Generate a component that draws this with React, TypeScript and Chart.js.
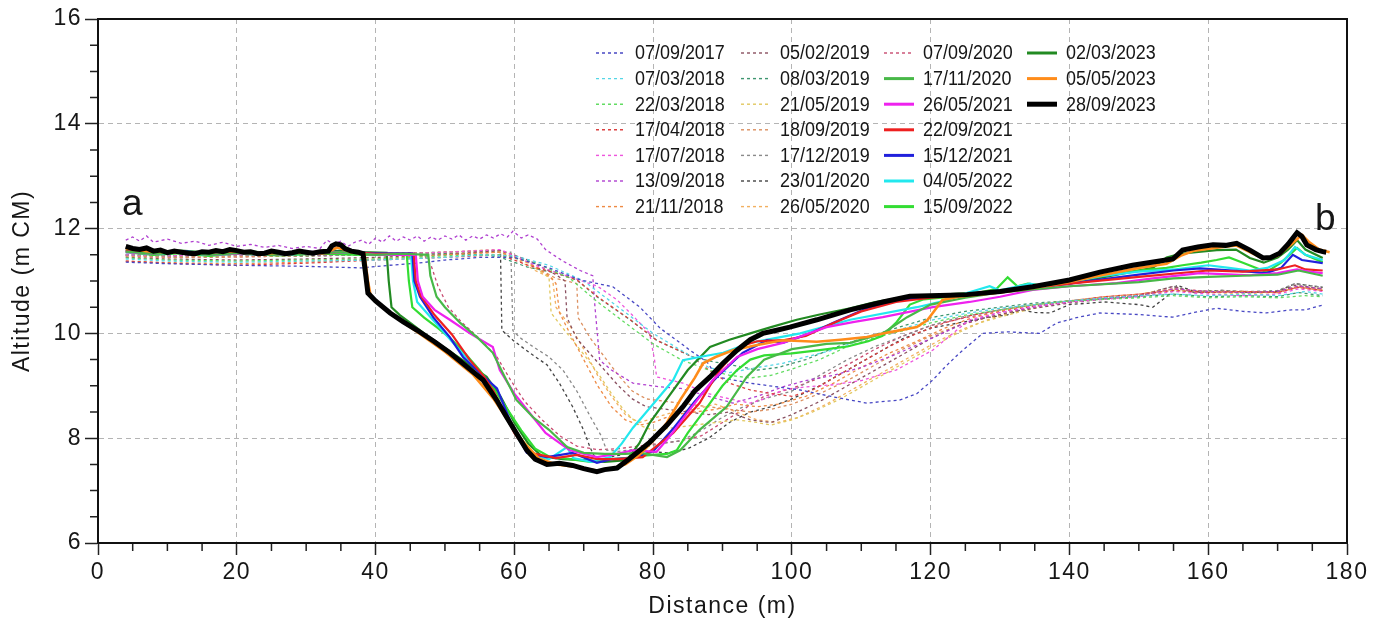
import React, { useEffect, useRef } from 'react';
import { Chart, registerables } from 'chart.js';

Chart.register(...registerables);

type P = [number, number][];

// ---- survey profiles: [distance (m), altitude (m CM)] ----
const s20170907: P = [[4,11.36],[10,11.33],[20,11.3],[30,11.28],[38,11.25],[42,11.3],[46,11.34],[50,11.4],[55,11.45],[60,11.45],[65,11.25],[69.5,11.02],[74.2,10.89],[78.1,10.5],[81,10.1],[83.9,9.82],[85.3,9.68],[87.8,9.45],[89.2,9.17],[94,9.05],[101.2,8.92],[105.9,8.79],[110.8,8.67],[115.6,8.73],[118,8.85],[120.3,9.11],[122,9.35],[124.2,9.63],[127.5,10.0],[131,10.03],[135.7,10.0],[138.2,10.2],[141,10.3],[144.4,10.39],[150,10.36],[154.9,10.31],[158,10.4],[161.2,10.48],[165,10.42],[168.4,10.39],[172,10.45],[174,10.45],[176.5,10.54]];
const s20180307: P = [[4,11.42],[10,11.38],[20,11.36],[30,11.38],[40,11.4],[50,11.45],[55,11.5],[60,11.48],[65,11.3],[70,11.0],[75,10.5],[80,10.0],[85,9.6],[88,9.35],[91,9.25],[95,9.35],[98.7,9.43],[102,9.55],[105.9,9.68],[110,9.88],[115,10.05],[120,10.25],[125,10.38],[130,10.48],[135,10.55],[140,10.62],[145,10.68],[150,10.72],[155,10.75],[160,10.72],[165,10.75],[170,10.72],[174,10.8],[176.5,10.75]];
const s20180322: P = [[4,11.44],[10,11.4],[20,11.38],[30,11.4],[40,11.42],[50,11.48],[58,11.5],[63,11.35],[68,11.05],[72,10.6],[76,10.2],[80,9.8],[84,9.5],[88,9.3],[91,9.2],[94,9.15],[97,9.2],[100,9.32],[104,9.5],[108,9.75],[112,9.92],[116,10.05],[120,10.2],[125,10.35],[130,10.45],[135,10.55],[140,10.62],[145,10.65],[150,10.68],[155,10.72],[160,10.68],[165,10.7],[170,10.68],[174,10.72],[176.5,10.7]];
const s20180417: P = [[4,11.38],[10,11.34],[20,11.3],[30,11.34],[40,11.4],[50,11.45],[58,11.5],[62,11.3],[66,11.15],[69,11.02],[72,10.7],[76.7,10.26],[80.5,9.87],[85.7,9.55],[88,9.3],[91,9.05],[94,8.92],[97,8.85],[100,8.8],[103,8.92],[106,9.15],[110,9.45],[114,9.75],[118,10.0],[122,10.2],[126,10.35],[130,10.45],[135,10.55],[140,10.62],[145,10.7],[150,10.75],[155,10.82],[160,10.78],[165,10.8],[170,10.78],[173,10.88],[176.5,10.82]];
const s20180717: P = [[4,11.5],[10,11.48],[20,11.5],[30,11.5],[40,11.5],[50,11.55],[58,11.6],[63,11.3],[68,11.08],[72,10.9],[74.8,10.64],[77,10.35],[79.5,10.0],[80.2,9.5],[80.5,9.17],[84.3,9.05],[88,8.85],[91,8.75],[94,8.67],[96,8.75],[98.7,8.92],[102,8.98],[106,9.02],[110,9.1],[115,9.3],[120.3,9.68],[123,9.98],[125.6,10.26],[130,10.4],[135,10.52],[140,10.6],[145,10.65],[150,10.7],[155,10.8],[160,10.75],[165,10.72],[170,10.75],[173,10.85],[176.5,10.8]];
const s20180913: P = [[4,11.78],[5,11.84],[6,11.76],[7,11.86],[8,11.74],[10,11.8],[12,11.72],[14,11.76],[16,11.68],[18,11.74],[20,11.66],[22,11.7],[24,11.64],[26,11.68],[28,11.62],[30,11.66],[32,11.62],[33,11.78],[34,11.7],[35,11.76],[36,11.66],[37,11.74],[38,11.78],[39,11.7],[40,11.82],[41,11.74],[42,11.86],[43,11.76],[44,11.84],[45,11.78],[46,11.86],[47,11.76],[48,11.84],[49,11.78],[50,11.86],[51,11.8],[52,11.88],[53,11.78],[54,11.86],[55,11.8],[56,11.88],[57,11.82],[58,11.9],[59,11.84],[59.8,11.95],[61,11.82],[62,11.88],[63.3,11.8],[64.5,11.6],[65.6,11.5],[67,11.38],[69.5,11.2],[71.3,11.1],[71.6,10.54],[72.3,9.49],[74,9.3],[77.1,9.05],[81,8.98],[84,8.95],[88,8.8],[91.5,8.67],[95,8.8],[98.7,8.98],[102,9.1],[106,9.2],[110,9.35],[115,9.6],[120,9.9],[125,10.2],[130,10.4],[135,10.5],[140,10.6],[145,10.68],[150,10.72],[155,10.85],[160,10.8],[165,10.78],[170,10.8],[173,10.9],[176.5,10.85]];
const s20181121: P = [[4,11.38],[10,11.35],[20,11.33],[30,11.36],[40,11.42],[50,11.5],[58,11.55],[62,11.35],[65,11.1],[66,10.95],[66.5,10.4],[68,10.0],[70,9.5],[72,9.0],[74,8.6],[76,8.35],[78,8.25],[80,8.3],[83,8.45],[86,8.5],[89,8.55],[92,8.65],[95,8.6],[98,8.65],[102,8.8],[106,9.05],[110,9.35],[114,9.62],[118,9.85],[122,10.1],[126,10.3],[130,10.42],[135,10.55],[140,10.62],[145,10.7],[150,10.75],[155,10.85],[160,10.8],[165,10.8],[170,10.78],[173,10.88],[176.5,10.82]];
const s20190205: P = [[4,11.45],[10,11.42],[20,11.4],[30,11.42],[40,11.45],[50,11.5],[58,11.58],[62,11.4],[66,11.12],[67.3,11.0],[67.6,10.3],[69,9.9],[71,9.6],[73,9.3],[75,9.0],[77,8.75],[79,8.6],[82,8.55],[85,8.5],[88,8.45],[91,8.5],[94,8.35],[97,8.3],[100,8.45],[104,8.7],[108,9.0],[112,9.3],[116,9.6],[120,9.9],[124,10.15],[128,10.3],[132,10.42],[136,10.5],[140,10.58],[145,10.66],[150,10.72],[155,10.9],[158,10.78],[162,10.8],[166,10.78],[170,10.8],[172.5,10.92],[176.5,10.85]];
const s20190308: P = [[4,11.5],[10,11.48],[20,11.5],[30,11.48],[40,11.5],[50,11.52],[56,11.5],[58,11.45],[61.8,11.27],[66,11.15],[69,11.02],[71.9,10.7],[76.7,10.26],[80.5,9.87],[85.7,9.55],[89,9.45],[92,9.38],[95,9.3],[98,9.35],[102,9.5],[106,9.72],[110,9.9],[115,10.1],[120,10.3],[125,10.42],[130,10.5],[135,10.58],[140,10.62],[145,10.66],[150,10.7],[155,10.75],[160,10.7],[165,10.72],[170,10.7],[173,10.78],[176.5,10.72]];
const s20190521: P = [[4,11.5],[10,11.48],[20,11.5],[30,11.5],[40,11.5],[50,11.55],[57,11.6],[60,11.5],[63,11.25],[65,11.07],[65.3,10.39],[67,10.1],[70,9.6],[72,9.25],[74,8.85],[76,8.5],[78,8.25],[80,8.15],[83,8.2],[86,8.25],[89,8.3],[92,8.35],[95,8.3],[97,8.25],[100,8.35],[103,8.5],[107,8.75],[111,9.05],[115,9.35],[119,9.65],[123,9.95],[127,10.2],[131,10.35],[135,10.48],[140,10.6],[145,10.68],[150,10.72],[155,10.82],[160,10.8],[165,10.78],[170,10.8],[173,10.9],[176.5,10.85]];
const s20190918: P = [[4,11.48],[10,11.45],[20,11.46],[30,11.48],[40,11.5],[50,11.52],[58,11.55],[62,11.35],[66,11.05],[69,10.95],[69.2,10.3],[71,9.9],[73,9.55],[75,9.2],[77,8.9],[79,8.75],[82,8.7],[85,8.65],[88,8.6],[91,8.55],[94,8.5],[97,8.55],[100,8.65],[104,8.85],[108,9.1],[112,9.4],[116,9.7],[120,9.95],[124,10.15],[128,10.3],[132,10.42],[136,10.52],[140,10.6],[145,10.68],[150,10.72],[155,10.85],[160,10.78],[165,10.8],[170,10.78],[173,10.88],[176.5,10.82]];
const s20191217: P = [[4,11.5],[10,11.48],[20,11.5],[30,11.5],[40,11.5],[50,11.52],[56,11.55],[59.5,11.55],[59.8,10.05],[61,9.9],[63,9.72],[65,9.55],[67,9.3],[69,8.9],[71,8.4],[72.5,8.05],[73.3,7.77],[75,7.75],[78,7.8],[81,7.9],[84,7.95],[87,8.15],[90,8.4],[93,8.6],[96,8.75],[100,8.9],[104,9.2],[108,9.5],[112,9.75],[116,9.95],[120,10.15],[124,10.3],[128,10.4],[132,10.5],[136,10.55],[140,10.62],[145,10.68],[150,10.72],[155,10.9],[158,10.78],[162,10.82],[166,10.8],[170,10.82],[172.5,10.95],[176.5,10.88]];
const s20200123: P = [[4,11.5],[10,11.48],[20,11.5],[30,11.5],[40,11.52],[50,11.55],[56,11.58],[58,11.58],[58.2,10.06],[59.8,9.87],[62.2,9.63],[64.7,9.4],[66.5,9.05],[68.4,8.6],[70,8.15],[70.9,7.83],[71.9,7.55],[73.8,7.64],[76,7.7],[79,7.75],[82,7.72],[85,7.8],[88,8.0],[91,8.3],[94,8.5],[97,8.6],[100,8.75],[104,9.0],[108,9.3],[112,9.6],[116,9.9],[120,10.1],[124,10.2],[128,10.3],[131,10.35],[133,10.45],[135,10.4],[137.2,10.39],[140,10.55],[145,10.6],[150,10.55],[152,10.5],[154,10.7],[155.5,10.92],[158,10.8],[162,10.82],[166,10.78],[170,10.8],[172.5,10.95],[176.5,10.88]];
const s20200526: P = [[4,11.48],[10,11.46],[20,11.48],[30,11.48],[40,11.5],[50,11.55],[57,11.58],[60,11.45],[63,11.2],[65.5,11.05],[66,10.5],[68,10.15],[70,9.7],[72,9.2],[74,8.8],[76,8.45],[78,8.3],[80,8.38],[83,8.5],[86,8.55],[89,8.65],[92,8.5],[95,8.35],[98,8.3],[101,8.4],[105,8.65],[109,8.95],[113,9.25],[117,9.55],[121,9.85],[125,10.1],[129,10.3],[133,10.45],[137,10.55],[141,10.62],[145,10.68],[150,10.72],[155,10.82],[160,10.78],[165,10.76],[170,10.78],[173,10.88],[176.5,10.82]];
const s20200907: P = [[4,11.48],[10,11.45],[20,11.46],[30,11.48],[40,11.5],[47,11.5],[48,11.3],[49,10.9],[50.5,10.5],[52.5,10.2],[55,9.9],[57.5,9.55],[59.5,9.1],[61.5,8.7],[64,8.35],[66.5,8.05],[69,7.85],[72,7.78],[75,7.8],[78,7.85],[81,7.9],[84,7.95],[87,8.05],[90,8.3],[93,8.55],[96,8.8],[100,8.95],[104,9.15],[108,9.4],[112,9.7],[116,9.95],[120,10.15],[125,10.3],[130,10.42],[135,10.52],[140,10.6],[145,10.66],[150,10.72],[155,10.85],[160,10.8],[165,10.78],[170,10.8],[173,10.9],[176.5,10.85]];
const s20201117: P = [[4,11.56],[8,11.52],[12,11.55],[16,11.5],[20,11.53],[25,11.5],[30,11.52],[35,11.55],[40,11.5],[44,11.52],[47.6,11.5],[47.9,11.1],[48.8,10.7],[50,10.5],[52.2,10.2],[54.6,9.93],[56.9,9.63],[58.5,9.2],[60.3,8.73],[62.7,8.4],[65,8.16],[67.6,7.83],[70,7.72],[73,7.7],[76,7.7],[78.1,7.72],[82,7.64],[83.9,7.77],[86.7,8.16],[90.6,8.6],[93.5,9.17],[96,9.5],[100,9.7],[105,9.8],[108.4,9.82],[113.1,10.0],[116.6,10.31],[120,10.55],[125,10.68],[130,10.78],[140,10.9],[150,10.98],[155,11.05],[160,11.08],[165,11.1],[170,11.12],[173,11.2],[176.5,11.1]];
const s20210526: P = [[4,11.55],[8,11.52],[12,11.56],[16,11.5],[20,11.52],[26,11.5],[32,11.54],[36,11.55],[40,11.5],[45.8,11.5],[46.1,11.0],[46.8,10.7],[48.5,10.45],[50.7,10.26],[53.6,10.0],[56.9,9.74],[57.9,9.3],[60,8.85],[62.7,8.4],[64.5,8.1],[66.6,7.9],[68,7.77],[71.9,7.64],[74.8,7.7],[77.1,7.77],[80.5,7.74],[82.5,8.05],[84.9,8.48],[88.6,9.11],[90.5,9.35],[92.1,9.55],[95,9.7],[98.7,9.82],[102,9.98],[105,10.12],[109,10.22],[113.1,10.31],[120.3,10.5],[125.6,10.6],[130,10.7],[134.7,10.83],[140,10.9],[146.8,10.96],[152,11.05],[158.8,11.15],[162,11.13],[166,11.11],[170,11.15],[172.8,11.22],[174.5,11.18],[176.5,11.15]];
const s20210922: P = [[4,11.57],[8,11.53],[12,11.56],[16,11.52],[20,11.53],[26,11.55],[32,11.52],[36,11.56],[40,11.52],[45.5,11.52],[45.8,11.0],[46.5,10.72],[48.5,10.35],[51,9.98],[53.6,9.49],[55.5,9.2],[57,8.9],[58.5,8.5],[60,8.1],[61.5,7.82],[63,7.7],[66,7.62],[69,7.68],[72,7.6],[75,7.6],[78.5,7.64],[82.9,8.1],[86.7,8.67],[88.2,9.0],[89.6,9.3],[92.5,9.75],[95,9.85],[98.7,9.87],[102,9.95],[106,10.2],[110,10.42],[115,10.6],[120,10.68],[130,10.78],[140,10.95],[150,11.08],[160,11.2],[165,11.18],[170,11.22],[172.5,11.3],[174,11.22],[176.5,11.2]];
const s20211215: P = [[4,11.58],[8,11.55],[12,11.57],[16,11.53],[20,11.55],[26,11.53],[32,11.56],[36,11.55],[40,11.53],[45.3,11.53],[45.6,11.0],[46.4,10.7],[48.3,10.31],[50.7,9.93],[52.6,9.55],[55,9.25],[57.5,8.95],[59.8,8.2],[61.8,7.72],[64.7,7.64],[68.4,7.72],[71.9,7.53],[74,7.6],[77,7.62],[80,7.75],[83,8.2],[86,8.7],[89.2,9.17],[92.9,9.63],[96.4,9.87],[98.7,9.82],[102.6,10.0],[105.9,10.2],[110.8,10.48],[115,10.62],[120,10.7],[130,10.8],[140,10.95],[150,11.12],[155,11.2],[158.8,11.24],[163.5,11.2],[168.4,11.15],[170.5,11.25],[172.2,11.5],[173.5,11.4],[176.5,11.34]];
const s20220504: P = [[4,11.55],[8,11.52],[12,11.54],[16,11.5],[20,11.52],[26,11.5],[32,11.53],[36,11.55],[40,11.52],[45.1,11.52],[45.4,11.0],[46,10.6],[48,10.3],[50,10.0],[52.5,9.62],[55,9.25],[57,8.85],[59,8.35],[61,7.9],[63,7.65],[65,7.6],[67.6,7.83],[68.5,7.62],[71,7.55],[73.8,7.64],[75.5,7.9],[77.1,8.2],[80.5,8.73],[82.9,9.11],[84.3,9.49],[86.7,9.55],[90.1,9.63],[94,9.82],[101.2,10.0],[108.4,10.26],[118,10.5],[122,10.62],[125.2,10.77],[128.5,10.9],[130,10.82],[134.3,10.95],[136,10.9],[140,10.98],[145,11.1],[150,11.18],[155,11.22],[160,11.3],[163,11.25],[166,11.2],[168.5,11.25],[171,11.4],[172.5,11.65],[174,11.5],[176.5,11.4]];
const s20220915: P = [[4,11.55],[8,11.5],[12,11.53],[16,11.48],[20,11.52],[26,11.49],[32,11.52],[38,11.5],[44.5,11.5],[44.8,11.0],[45.3,10.5],[47,10.3],[49,10.1],[51,9.88],[53,9.6],[55,9.3],[57,8.95],[59,8.55],[61,8.15],[63,7.8],[65,7.65],[68,7.6],[71,7.55],[74,7.6],[76,7.62],[78,7.66],[80,7.68],[82,7.7],[83.4,7.77],[85,8.1],[88.2,8.67],[90,9.0],[92.1,9.3],[94,9.5],[96,9.58],[100,9.62],[104,9.68],[108,9.75],[111,9.85],[113,9.95],[115,10.2],[117,10.55],[119,10.65],[123,10.7],[127,10.78],[129.5,10.85],[131.1,11.07],[132.5,10.9],[134,10.95],[135.5,10.92],[138,10.98],[145,11.1],[150,11.2],[154,11.25],[156.3,11.3],[159,11.35],[161.2,11.4],[163,11.45],[165,11.35],[168.4,11.17],[170.5,11.35],[172.8,11.63],[174,11.5],[176.5,11.36]];
const s20230302: P = [[4,11.6],[8,11.56],[12,11.58],[16,11.54],[20,11.58],[26,11.53],[30,11.52],[35,11.58],[38,11.55],[41.6,11.54],[41.9,11.0],[42.3,10.5],[43.5,10.35],[45,10.2],[47,10.0],[50,9.72],[53,9.45],[56,9.17],[58,8.8],[60,8.3],[62,7.9],[64,7.65],[67,7.6],[70,7.58],[73,7.55],[76.2,7.58],[78,7.9],[79.5,8.29],[82,8.75],[85,9.3],[88.2,9.74],[91,9.88],[94,10.0],[97,10.12],[100.7,10.26],[104,10.36],[108.4,10.48],[112,10.6],[115.6,10.68],[120,10.73],[130,10.8],[140,10.95],[148,11.15],[152,11.25],[154,11.45],[156,11.52],[161.2,11.59],[164,11.6],[166,11.44],[168,11.35],[170,11.45],[171.5,11.6],[172.8,11.78],[174,11.6],[176.5,11.44]];
const s20230505: P = [[4,11.62],[7,11.57],[10,11.55],[14,11.53],[17,11.56],[20,11.57],[24,11.52],[27,11.55],[30,11.54],[33.5,11.58],[34.5,11.64],[35.5,11.6],[36.5,11.55],[38.4,11.52],[38.9,11.0],[39.3,10.72],[41,10.5],[43,10.3],[46,10.03],[50,9.65],[54,9.22],[57,8.75],[59.5,8.25],[61.5,7.9],[63.5,7.62],[66,7.5],[69,7.45],[72,7.38],[74,7.42],[76,7.5],[78,7.68],[80,7.95],[82,8.3],[84,8.75],[86,9.15],[87.2,9.43],[89,9.55],[91.5,9.68],[95,9.78],[98.7,9.87],[103.6,9.84],[107,9.88],[110.8,9.93],[114,10.02],[118,10.12],[119.5,10.25],[120.3,10.39],[121.7,10.64],[124,10.7],[130,10.78],[135,10.87],[140,10.98],[145,11.12],[150,11.25],[154,11.33],[156,11.48],[158,11.58],[161,11.63],[164,11.68],[166,11.55],[168,11.42],[170,11.48],[172,11.7],[173.5,11.88],[174.5,11.75],[176,11.6],[177.5,11.55]];
const s20230928: P = [[4,11.66],[5,11.62],[6,11.6],[7,11.63],[8,11.57],[9,11.59],[10,11.54],[11,11.57],[12,11.55],[13,11.53],[14,11.52],[15,11.56],[16,11.55],[17,11.58],[18,11.56],[19,11.6],[20,11.58],[21,11.55],[22,11.56],[23,11.52],[24,11.53],[25,11.57],[26,11.55],[27,11.52],[28,11.54],[29,11.57],[30,11.55],[31,11.53],[32,11.56],[33.2,11.57],[33.7,11.67],[34.3,11.71],[35,11.69],[35.6,11.62],[36.5,11.57],[37.5,11.55],[38.2,11.52],[38.6,11.1],[38.9,10.77],[40,10.62],[42.1,10.39],[44,10.22],[46,10.06],[48.5,9.84],[50.7,9.63],[53,9.38],[55.5,9.11],[57.5,8.72],[58.9,8.4],[60.5,8.05],[61.8,7.77],[63,7.6],[64.7,7.5],[66.5,7.52],[68.4,7.48],[70,7.42],[71.9,7.36],[73,7.4],[74.8,7.43],[76.5,7.6],[78.1,7.77],[79.5,7.92],[82,8.25],[84.3,8.6],[86,8.9],[88.2,9.17],[90,9.42],[92.1,9.68],[94,9.88],[95.8,10.0],[97.5,10.05],[99.7,10.12],[103.6,10.26],[108.4,10.45],[113.1,10.6],[117,10.71],[122.8,10.73],[125.2,10.74],[130,10.8],[134.7,10.89],[140,11.02],[144.4,11.17],[149.1,11.3],[153,11.38],[154.9,11.42],[156.3,11.59],[158.5,11.65],[160.7,11.69],[162.5,11.68],[164.1,11.72],[166,11.59],[167.9,11.44],[169,11.45],[170.3,11.53],[171.5,11.7],[172.8,11.92],[173.5,11.85],[174.2,11.69],[175.5,11.6],[176.5,11.56],[177,11.55]];

// ---- legend labels (dates) in legend order ----
const LABELS = [
  '07/09/2017', '07/03/2018', '22/03/2018', '17/04/2018', '17/07/2018', '13/09/2018', '21/11/2018',
  '05/02/2019', '08/03/2019', '21/05/2019', '18/09/2019', '17/12/2019', '23/01/2020', '26/05/2020',
  '07/09/2020', '17/11/2020', '26/05/2021', '22/09/2021', '15/12/2021', '04/05/2022', '15/09/2022',
  '02/03/2023', '05/05/2023', '28/09/2023',
];
const VALUES: P[] = [
  s20170907, s20180307, s20180322, s20180417, s20180717, s20180913, s20181121,
  s20190205, s20190308, s20190521, s20190918, s20191217, s20200123, s20200526,
  s20200907, s20201117, s20210526, s20210922, s20211215, s20220504, s20220915,
  s20230302, s20230505, s20230928,
];

// ---- styles ----
const COLORS = [
  '#4848c4', '#55d6e6', '#62dc62', '#dc4040', '#ee55dd', '#b040d0', '#ee8a44',
  '#8a5060', '#3f9670', '#e2c860', '#dc9060', '#8a8a8a', '#444444', '#f2b060',
  '#c84a70', '#48b848', '#ee22ee', '#ee2020', '#2020dc', '#22e8ee', '#33dd33',
  '#228a22', '#ff8c1a', '#000000',
];
const DASHED = LABELS.map((_, i) => i < 15);
const WIDTHS = LABELS.map((_, i) => (i < 15 ? 1.3 : i === 23 ? 5 : i === 22 ? 2.6 : 2.2));

const FONT = 'Arial, "Liberation Sans", Helvetica, sans-serif';
const TEXT = '#161616';

const decorPlugin = {
  id: 'decor',
  beforeDraw(chart: any) {
    chart.ctx.letterSpacing = '1.5px';
  },
  afterDraw(chart: any) {
    const ctx = chart.ctx as CanvasRenderingContext2D;
    const { left, right, top, bottom } = chart.chartArea;
    const xs = chart.scales.x;
    const ys = chart.scales.y;
    ctx.save();
    (ctx as any).letterSpacing = '0px';
    // minor ticks
    ctx.strokeStyle = '#222';
    ctx.lineWidth = 1.5;
    ctx.beginPath();
    for (let v = 5; v < 180; v += 5) {
      if (v % 20 === 0) continue;
      const px = xs.getPixelForValue(v);
      ctx.moveTo(px, bottom);
      ctx.lineTo(px, bottom + 8);
    }
    for (let v = 6.5; v < 16; v += 0.5) {
      if (Math.abs(v % 2) < 1e-6) continue;
      const py = ys.getPixelForValue(v);
      ctx.moveTo(left, py);
      ctx.lineTo(left - 8, py);
    }
    ctx.stroke();
    // frame
    ctx.lineWidth = 2;
    ctx.strokeStyle = '#111';
    ctx.strokeRect(left, top, right - left, bottom - top);

    // panel letters
    ctx.fillStyle = TEXT;
    ctx.font = `37px ${FONT}`;
    ctx.textBaseline = 'alphabetic';
    ctx.textAlign = 'left';
    ctx.fillText('a', left + 24, top + 196);
    ctx.fillText('b', right - 32, top + 211);

    // legend (4 columns, 7 rows, column-major)
    const colX = [596, 741, 884, 1027];
    const rowY0 = 53;
    const rowDy = 25.6;
    const lineLen = 30;
    for (let i = 0; i < LABELS.length; i++) {
      const c = Math.floor(i / 7);
      const r = i % 7;
      const x0 = colX[c];
      const y0 = rowY0 + r * rowDy;
      ctx.beginPath();
      ctx.strokeStyle = COLORS[i];
      if (DASHED[i]) {
        ctx.setLineDash([3, 3]);
        ctx.lineWidth = 1.4;
      } else {
        ctx.setLineDash([]);
        ctx.lineWidth = i === 23 ? 5 : 3;
      }
      ctx.moveTo(x0, y0);
      ctx.lineTo(x0 + lineLen, y0);
      ctx.stroke();
      ctx.setLineDash([]);
      ctx.save();
      ctx.translate(x0 + lineLen + 9, y0);
      ctx.scale(0.92, 1);
      ctx.font = `19.5px ${FONT}`;
      ctx.fillStyle = TEXT;
      ctx.textBaseline = 'middle';
      ctx.fillText(LABELS[i], 0, 1);
      ctx.restore();
    }
    ctx.restore();
  },
};

export default function App() {
  const ref = useRef<HTMLCanvasElement | null>(null);
  useEffect(() => {
    if (!ref.current) return;
    const datasets = VALUES.map((pts, i) => ({
      label: LABELS[i],
      data: pts.map(([x, y]) => ({ x, y })),
      borderColor: COLORS[i],
      backgroundColor: COLORS[i],
      borderWidth: WIDTHS[i],
      borderDash: DASHED[i] ? [3, 3] : [],
      pointRadius: 0,
      fill: false,
      tension: 0,
      order: i === 23 ? 0 : i === 22 ? 1 : DASHED[i] ? 3 : 2,
    }));
    const chart = new Chart(ref.current, {
      type: 'line',
      data: { datasets },
      plugins: [decorPlugin],
      options: {
        animation: false,
        responsive: true,
        maintainAspectRatio: false,
        layout: { padding: { left: 0, right: 39, top: 19, bottom: 0 } },
        plugins: { legend: { display: false }, tooltip: { enabled: false } },
        scales: {
          x: {
            type: 'linear',
            min: 0,
            max: 180,
            ticks: { stepSize: 20, color: TEXT, padding: 4, font: { family: FONT, size: 23 } },
            grid: { color: '#b4b4b4', lineWidth: 1, tickColor: '#222', tickLength: 12, tickWidth: 1.5 },
            border: { display: true, color: '#111', width: 2, dash: [5, 4] },
            title: { display: true, text: 'Distance (m)', color: TEXT, font: { family: FONT, size: 23 }, padding: { top: 0, bottom: 1 } },
            afterFit: (s: any) => { s.height = 78; },
          },
          y: {
            type: 'linear',
            min: 6,
            max: 16,
            ticks: { stepSize: 2, color: TEXT, padding: 3, font: { family: FONT, size: 23 } },
            grid: { color: '#b4b4b4', lineWidth: 1, tickColor: '#222', tickLength: 13, tickWidth: 1.5 },
            border: { display: true, color: '#111', width: 2, dash: [5, 4] },
            title: { display: true, text: 'Altitude (m CM)', color: TEXT, font: { family: FONT, size: 23 }, padding: { top: 9, bottom: 0 } },
            afterFit: (s: any) => { s.width = 98; },
          },
        },
      } as any,
    });
    return () => chart.destroy();
  }, []);
  return (
    <div style={{ position: 'fixed', left: 0, top: 0, width: 1386, height: 621, background: '#fff' }}>
      <canvas ref={ref} />
    </div>
  );
}
